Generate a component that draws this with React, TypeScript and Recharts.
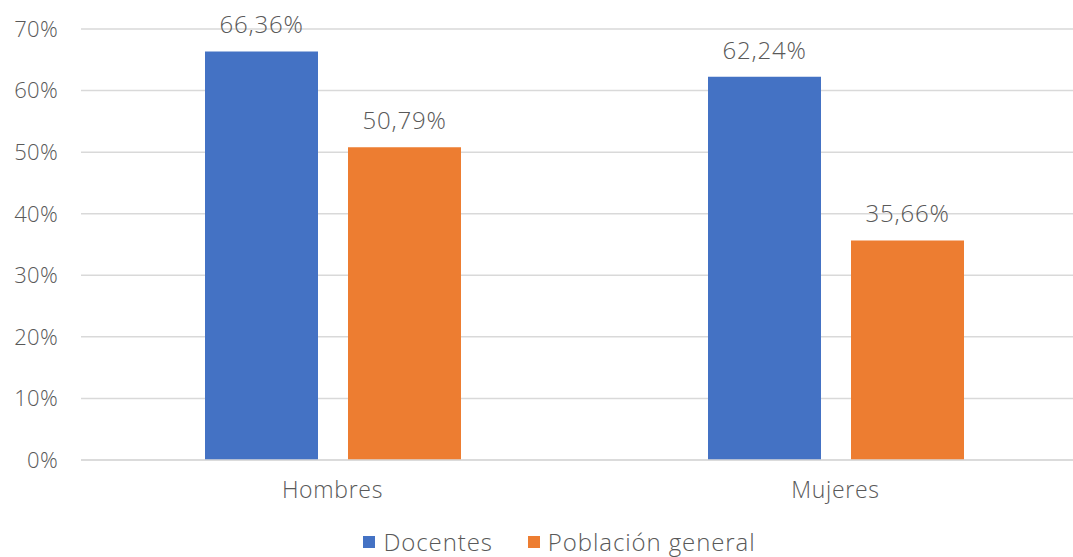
import { BarChart, Bar, XAxis, YAxis, CartesianGrid, LabelList } from "recharts";

const categories = ["Hombres", "Mujeres"];
const docentes = [66.36, 62.24];
const poblacionGeneral = [50.79, 35.66];
const yTicks = [0, 10, 20, 30, 40, 50, 60, 70];

const BLUE = "#4472C4";
const ORANGE = "#ED7D31";
const TEXT = "#595959";
const FONT = "'Open Sans', sans-serif";

const data = categories.map((name, i) => ({
  name,
  docentes: docentes[i],
  poblacion: poblacionGeneral[i],
}));

const fmt = (v: unknown) => `${Number(v).toFixed(2).replace(".", ",")}%`;

const labelStyle = { fill: TEXT, fontSize: 24, fontFamily: FONT, fontWeight: 300, letterSpacing: 0.8 };

export default function App() {
  return (
    <div style={{ position: "relative", width: 1073, height: 557, overflow: "hidden", background: "#fff", fontFamily: FONT }}>
      <style>{`body{margin:0}`}</style>
      <BarChart
        width={1100}
        height={557}
        data={data}
        margin={{ top: 29, right: 13, bottom: 47, left: 0 }}
        barSize={113}
        barGap={30}
      >
        <CartesianGrid vertical={false} stroke="#d9d9d9" strokeWidth={1.5} />
        <XAxis
          dataKey="name"
          axisLine={{ stroke: "#d9d9d9", strokeWidth: 1.5 }}
          tickLine={false}
          tickSize={0}
          tickMargin={22}
          height={50}
          tick={{ fill: TEXT, fontSize: 23, fontFamily: FONT, fontWeight: 300, letterSpacing: 0.7 }}
        />
        <YAxis
          width={81}
          domain={[0, 70]}
          ticks={yTicks}
          axisLine={false}
          tickLine={false}
          tickSize={0}
          tickMargin={23}
          tickFormatter={(v) => `${v}%`}
          tick={{ fill: TEXT, fontSize: 22, fontFamily: FONT, fontWeight: 300, letterSpacing: 0.3 }}
        />
        <Bar dataKey="docentes" fill={BLUE} isAnimationActive={false}>
          <LabelList dataKey="docentes" position="top" offset={18} formatter={fmt} {...labelStyle} />
        </Bar>
        <Bar dataKey="poblacion" fill={ORANGE} isAnimationActive={false}>
          <LabelList dataKey="poblacion" position="top" offset={18} formatter={fmt} {...labelStyle} />
        </Bar>
      </BarChart>

      {/* Legend */}
      <div
        style={{
          position: "absolute",
          top: 527,
          left: 0,
          width: 1073,
          display: "flex",
          justifyContent: "center",
          gap: 35,
          color: TEXT,
          fontSize: 24,
          fontWeight: 300,
          letterSpacing: 0.9,
          lineHeight: "30px",
          paddingLeft: 46,
          boxSizing: "border-box",
        }}
      >
        {[
          { label: "Docentes", color: BLUE },
          { label: "Población general", color: ORANGE },
        ].map((item) => (
          <div key={item.label} style={{ display: "flex", alignItems: "center", gap: 8 }}>
            <span style={{ display: "inline-block", width: 12, height: 12, background: item.color }} />
            <span>{item.label}</span>
          </div>
        ))}
      </div>
    </div>
  );
}
